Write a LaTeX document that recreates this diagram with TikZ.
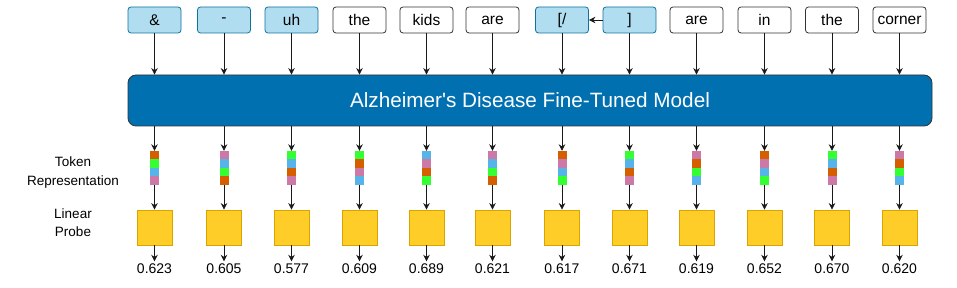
\documentclass[tikz,border=0pt]{standalone}
\usepackage{fontspec}
\setmainfont{Liberation Sans}
\usetikzlibrary{arrows.meta}
\definecolor{hlfill}{HTML}{B1DDF0}
\definecolor{hldraw}{HTML}{10739E}
\definecolor{modelfill}{HTML}{0070B0}
\definecolor{probefill}{HTML}{FFCD28}
\definecolor{probedraw}{HTML}{D9A300}
\definecolor{cO}{HTML}{D55E00}
\definecolor{cG}{HTML}{33FF33}
\definecolor{cB}{HTML}{56B4E9}
\definecolor{cP}{HTML}{CC79A7}
\tikzset{
  tokbox/.style={draw=black!80, line width=0.8pt, rounded corners=3pt, minimum width=53pt, minimum height=26pt, inner sep=0pt, font=\fontsize{15.5}{18}\selectfont},
  hl/.style={fill=hlfill, draw=hldraw},
  pl/.style={fill=white},
  modelbox/.style={draw=black!80, line width=0.8pt, fill=modelfill, rounded corners=8pt, minimum width=804pt, minimum height=51pt, inner sep=0pt, text=white, font=\fontsize{20.7}{24}\selectfont},
  barbox/.style={minimum width=9pt, minimum height=34pt, inner sep=0pt},
  probebox/.style={draw=probedraw, line width=0.8pt, fill=probefill, minimum width=35pt, minimum height=35pt, inner sep=0pt},
  valnode/.style={inner sep=1.5pt, text height=10pt, text depth=0pt, font=\fontsize{14}{16}\selectfont},
  sidelabel/.style={align=center, font=\fontsize{13.5}{18.5}\selectfont},
  arr/.style={draw=black!90, line width=0.8pt, -{Stealth[length=6.5pt,width=6.5pt]}},
}
\begin{document}
\begin{tikzpicture}[x=1pt,y=-1pt]
\useasboundingbox (0,0) rectangle (957,288);
\node[modelbox] (m) at (530,100.5) {Alzheimer\textquotesingle s Disease Fine-Tuned Model};
\node[sidelabel] (lt) at (73,172.5) {Token\\Representation};
\node[sidelabel] (lp) at (73,222.5) {Linear\\Probe};
\foreach \i/\x/\t/\s/\a/\b/\c/\d/\v in {
  1/154.5/{\&}/hl/cO/cG/cB/cP/0.623,
  2/224/{-}/hl/cP/cB/cG/cO/0.605,
  3/291.5/uh/hl/cG/cB/cO/cP/0.577,
  4/359.5/the/pl/cG/cO/cP/cB/0.609,
  5/426.5/kids/pl/cB/cP/cO/cG/0.689,
  6/492.5/are/pl/cP/cB/cG/cO/0.621,
  7/562/{[/}/hl/cO/cP/cB/cG/0.617,
  8/629.5/{]}/hl/cG/cB/cO/cP/0.671,
  9/696.5/are/pl/cP/cO/cG/cB/0.619,
  10/764.5/in/pl/cO/cP/cB/cG/0.652,
  11/832/the/pl/cG/cB/cO/cP/0.670,
  12/899.5/corner/pl/cP/cO/cG/cB/0.620}
{
  \node[tokbox,\s] (t\i) at (\x,20) {\t};
  \node[barbox] (r\i) at (\x,168) {};
  \fill[\a] (\x-4.5,151) rectangle (\x+4.5,159.5);
  \fill[\b] (\x-4.5,159.5) rectangle (\x+4.5,168);
  \fill[\c] (\x-4.5,168) rectangle (\x+4.5,176.5);
  \fill[\d] (\x-4.5,176.5) rectangle (\x+4.5,185);
  \node[probebox] (p\i) at (\x,227.5) {};
  \node[valnode] (v\i) at (\x,268) {\v};
  \draw[arr] (t\i.south) -- (t\i.south |- m.north);
  \draw[arr] (m.south -| r\i.north) -- (r\i.north);
  \draw[arr] (r\i.south) -- (p\i.north);
  \draw[arr] (p\i.south) -- (v\i.north);
}
\draw[arr] (t8.west) -- (t7.east);
\end{tikzpicture}
\end{document}
